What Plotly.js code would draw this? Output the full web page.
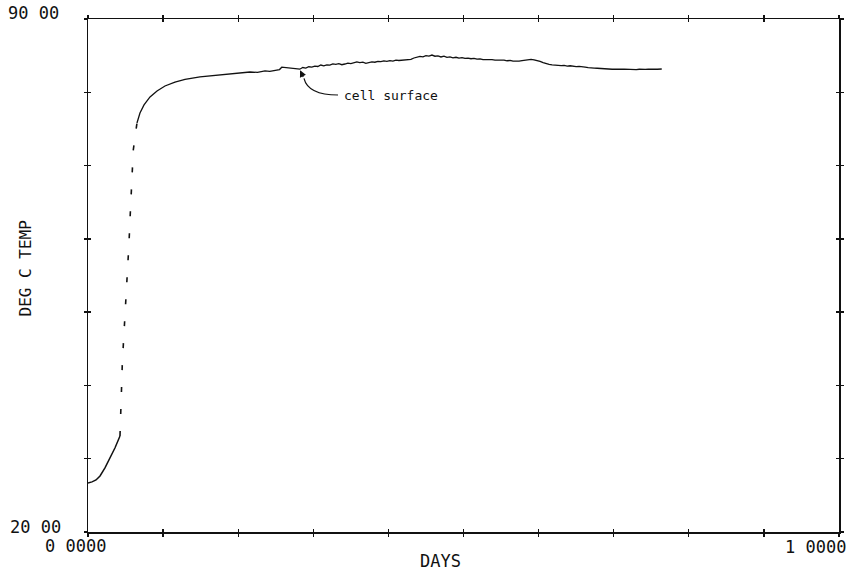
<!DOCTYPE html>
<html>
<head>
<meta charset="utf-8">
<script src="https://cdn.plot.ly/plotly-3.0.1.min.js"></script>
<style>html,body{margin:0;padding:0;background:#fff;}#chart{width:851px;height:572px;}</style>
</head>
<body>
<div id="chart"></div>
<script>
// Warm-up (solid lower segment)
const warmDays = [0, 0.0053, 0.0107, 0.016, 0.0226, 0.0293, 0.036, 0.0426];
const warmTemp = [26.70, 26.84, 27.10, 27.65, 28.75, 30.10, 31.50, 33.09];

// Rapid rise (dashed segment)
const riseDays = [0.0426, 0.0435, 0.0449, 0.0457, 0.0471, 0.0484, 0.0502, 0.0516, 0.0537, 0.0546, 0.0559, 0.0573, 0.0590, 0.0603, 0.0652];
const riseTemp = [33.09, 37.61, 40.33, 43.06, 45.52, 48.52, 51.25, 53.98, 56.71, 59.44, 62.57, 65.71, 68.99, 72.13, 75.81];

// Cell surface (solid upper segment)
const cellDays = [0.0652, 0.0692, 0.0746, 0.0826, 0.0919, 0.1025, 0.1158, 0.1292, 0.1491, 0.1691, 0.1891, 0.2024, 0.2157, 0.2257, 0.2357, 0.2420,
  0.250, 0.255, 0.258, 0.262, 0.266, 0.270, 0.274, 0.278, 0.282, 0.286, 0.290, 0.294, 0.298, 0.302, 0.306, 0.310, 0.314, 0.318, 0.322, 0.326,
  0.330, 0.334, 0.338, 0.342, 0.346, 0.350, 0.354, 0.358, 0.362, 0.366, 0.370, 0.374, 0.378, 0.382, 0.386, 0.390, 0.394, 0.398, 0.402, 0.406,
  0.410, 0.414, 0.418, 0.422, 0.426, 0.430, 0.434, 0.438, 0.442, 0.446, 0.450, 0.454, 0.458, 0.462, 0.466, 0.470, 0.474, 0.478, 0.482, 0.486,
  0.490, 0.494, 0.498, 0.502, 0.506, 0.510, 0.514, 0.518, 0.522, 0.526, 0.530, 0.534, 0.538, 0.542, 0.546, 0.550, 0.554, 0.558, 0.562, 0.566,
  0.570, 0.574, 0.578, 0.582, 0.586, 0.590, 0.594, 0.598, 0.602, 0.606, 0.610, 0.614, 0.618, 0.622, 0.626, 0.630, 0.634, 0.638, 0.642, 0.646,
  0.650, 0.654, 0.658, 0.662, 0.666, 0.670, 0.674, 0.678, 0.682, 0.686, 0.690, 0.694, 0.698, 0.702, 0.706, 0.710, 0.714, 0.718, 0.722, 0.726,
  0.730, 0.734, 0.738, 0.742, 0.746, 0.750, 0.754, 0.758, 0.762, 0.764];
const cellTemp = [75.81, 77.17, 78.27, 79.36, 80.18, 80.86, 81.40, 81.75, 82.09, 82.29, 82.50, 82.62, 82.77, 82.72, 82.91, 82.86,
  83.04, 83.10, 83.42, 83.38, 83.30, 83.36, 83.22, 83.28, 83.15, 83.38, 83.30, 83.48, 83.44, 83.58, 83.52, 83.72, 83.62, 83.75, 83.70, 83.88,
  83.80, 83.90, 83.76, 83.86, 83.98, 83.92, 84.05, 84.14, 84.06, 84.12, 83.96, 84.04, 84.16, 84.10, 84.22, 84.18, 84.28, 84.22, 84.32, 84.26,
  84.38, 84.34, 84.40, 84.36, 84.52, 84.48, 84.68, 84.82, 84.90, 84.84, 85.00, 84.94, 85.08, 84.92, 84.96, 84.82, 84.94, 84.76, 84.82, 84.70,
  84.78, 84.66, 84.72, 84.62, 84.66, 84.58, 84.62, 84.52, 84.56, 84.46, 84.48, 84.44, 84.46, 84.40, 84.42, 84.36, 84.38, 84.30, 84.34, 84.24,
  84.22, 84.26, 84.32, 84.40, 84.44, 84.48, 84.42, 84.36, 84.22, 84.04, 83.90, 83.80, 83.74, 83.68, 83.72, 83.64, 83.66, 83.58, 83.62, 83.52,
  83.50, 83.54, 83.44, 83.42, 83.36, 83.38, 83.30, 83.28, 83.24, 83.26, 83.18, 83.22, 83.14, 83.16, 83.10, 83.14, 83.16, 83.12, 83.18, 83.14,
  83.10, 83.14, 83.08, 83.12, 83.14, 83.10, 83.16, 83.14, 83.20, 83.18];

const xTickLabels = ["0 0000", "1 0000"];
const yTickLabels = ["20 00", "90 00"];

const ink = "#111";
const fontFam = "DejaVu Sans Mono, Liberation Mono, monospace";

const traces = [
  {x: warmDays, y: warmTemp, mode: "lines", line: {color: ink, width: 1.5}, hoverinfo: "skip"},
  {x: riseDays, y: riseTemp, mode: "lines", line: {color: ink, width: 1.6, dash: "5px,17px"}, hoverinfo: "skip"},
  {x: cellDays, y: cellTemp, mode: "lines", line: {color: ink, width: 1.3}, hoverinfo: "skip"},
  {x: [0.5], y: [50], xaxis: "x2", yaxis: "y2", mode: "markers", marker: {opacity: 0}, hoverinfo: "skip"}
];

const axBase = {
  showgrid: false, zeroline: false, showticklabels: false,
  showline: true, linecolor: ink, linewidth: 1.5, mirror: "ticks",
  tickcolor: ink, tickwidth: 1.3, ticklen: 3
};

const layout = {
  width: 851, height: 572,
  margin: {l: 88, r: 12, t: 19, b: 40},
  paper_bgcolor: "#fff", plot_bgcolor: "#fff",
  showlegend: false,
  font: {family: fontFam, color: ink, size: 13},
  xaxis: Object.assign({}, axBase, {range: [0, 1], tickmode: "linear", tick0: 0, dtick: 0.1, ticks: "outside"}),
  yaxis: Object.assign({}, axBase, {range: [20, 90], tickmode: "linear", tick0: 20, dtick: 10, ticks: "outside"}),
  xaxis2: Object.assign({}, axBase, {range: [0, 1], tickmode: "linear", tick0: 0, dtick: 0.1, ticks: "inside", overlaying: "x", showline: false}),
  yaxis2: Object.assign({}, axBase, {range: [20, 90], tickmode: "linear", tick0: 20, dtick: 10, ticks: "inside", overlaying: "y", showline: false}),
  shapes: [
    {type: "path", xref: "x", yref: "y", path: "M 0.2876 81.90 Q 0.2930 79.63 0.3329 79.63", line: {color: ink, width: 1.2}}
  ],
  annotations: [
    {x: 0, y: 0, xref: "paper", yref: "paper", text: xTickLabels[0], showarrow: false, xanchor: "center", yanchor: "middle", xshift: -13, yshift: -14, font: {size: 17}},
    {x: 1, y: 0, xref: "paper", yref: "paper", text: xTickLabels[1], showarrow: false, xanchor: "right", yanchor: "middle", xshift: 9, yshift: -15, font: {size: 17}},
    {x: 0, y: 0, xref: "paper", yref: "paper", text: yTickLabels[0], showarrow: false, xanchor: "right", yanchor: "middle", xshift: -25, yshift: 5, font: {size: 17}},
    {x: 0, y: 1, xref: "paper", yref: "paper", text: yTickLabels[1], showarrow: false, xanchor: "right", yanchor: "middle", xshift: -27, yshift: 6, font: {size: 17}},
    {x: 440, y: 561, xref: "paper", yref: "paper", text: "DAYS", showarrow: false, xanchor: "center", yanchor: "middle", font: {size: 17}},
    {x: 0, y: 0.5, xref: "paper", yref: "paper", text: "DEG C TEMP", showarrow: false, textangle: -90, xanchor: "center", yanchor: "middle", xshift: -63, yshift: 7, font: {size: 16}},
    {x: 0.3382, y: 79.55, xref: "x", yref: "y", text: "cell surface", showarrow: false, xanchor: "left", yanchor: "middle", font: {size: 13}},
    {x: 0.2823, y: 83.00, xref: "x", yref: "y", ax: 0.2876, ay: 81.90, axref: "x", ayref: "y", text: "", showarrow: true, arrowhead: 2, arrowsize: 1.1, arrowwidth: 1.2, arrowcolor: ink}
  ]
};
// DAYS position given in pixels above; convert to paper coordinates
(function () {
  const a = layout.annotations[4];
  const plotW = 851 - layout.margin.l - layout.margin.r;
  const plotH = 572 - layout.margin.t - layout.margin.b;
  a.x = (a.x - layout.margin.l) / plotW;
  a.y = (572 - layout.margin.b - a.y) / plotH;
})();

Plotly.newPlot("chart", traces, layout, {displayModeBar: false, staticPlot: true});
</script>
</body>
</html>
